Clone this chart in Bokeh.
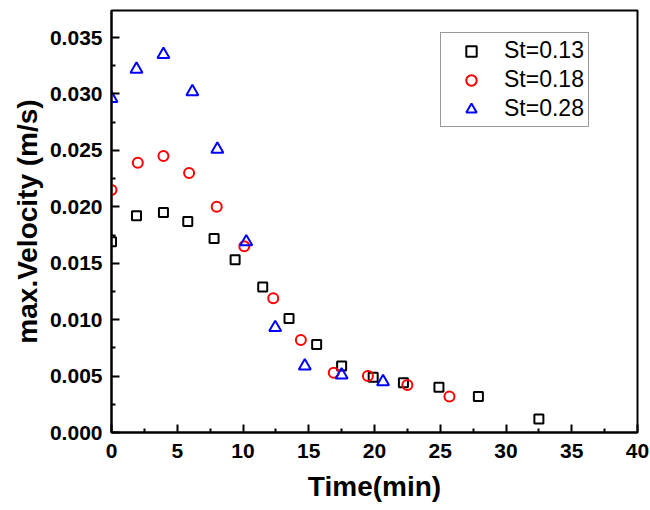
from bokeh.plotting import figure
from bokeh.models import Range1d, FixedTicker, PrintfTickFormatter, Legend, LegendItem
from bokeh.embed import file_html
from bokeh.resources import INLINE

# ---- data ----
t_013 = [0.0, 1.9, 3.95, 5.8, 7.8, 9.4, 11.5, 13.5, 15.6, 17.5, 19.9, 22.2, 24.9, 27.9, 32.5]
v_013 = [0.0169, 0.0192, 0.0195, 0.0187, 0.0172, 0.0153, 0.0129, 0.0101, 0.0078, 0.0059, 0.0049, 0.0044, 0.0040, 0.0032, 0.0012]

t_018 = [0.0, 2.0, 3.95, 5.9, 8.0, 10.1, 12.3, 14.4, 16.9, 19.5, 22.5, 25.7]
v_018 = [0.0215, 0.0239, 0.0245, 0.0230, 0.0200, 0.0165, 0.0119, 0.0082, 0.0053, 0.0050, 0.0042, 0.0032]

t_028 = [0.0, 1.9, 3.95, 6.15, 8.05, 10.25, 12.45, 14.7, 17.5, 20.65]
v_028 = [0.0296, 0.0322, 0.0335, 0.0302, 0.0251, 0.0169, 0.0093, 0.0059, 0.0051, 0.0045]

labels = ["St=0.13", "St=0.18", "St=0.28"]
x_ticks = [0, 5, 10, 15, 20, 25, 30, 35, 40]
y_ticks = [0.000, 0.005, 0.010, 0.015, 0.020, 0.025, 0.030, 0.035]

FONT = "Liberation Sans"

p = figure(width=650, height=510, output_backend="svg", toolbar_location=None,
           x_range=Range1d(0, 40), y_range=Range1d(0, 0.0374),
           min_border_left=111, min_border_right=13, min_border_top=10, min_border_bottom=78)
p.background_fill_color = "white"
p.border_fill_color = "white"
p.xgrid.visible = False
p.ygrid.visible = False
p.outline_line_color = "black"
p.outline_line_width = 2

specs = [("square", 9, "black", t_013, v_013),
         ("circle", 10, "red", t_018, v_018),
         ("triangle", 12, "blue", t_028, v_028)]
items = []
for (mk, sz, col, xs, ys), lab in zip(specs, labels):
    r = p.scatter(xs, ys, marker=mk, size=sz, fill_color=None, line_color=col, line_width=2)
    items.append(LegendItem(label=lab, renderers=[r]))

minor_x = [v + 2.5 for v in x_ticks[:-1]]
minor_y = [v + 0.0025 for v in y_ticks]
for ax, ticks, minor in ((p.xaxis[0], x_ticks, minor_x), (p.yaxis[0], y_ticks, minor_y)):
    ax.ticker = FixedTicker(ticks=ticks, minor_ticks=minor)
    ax.axis_line_width = 2
    ax.axis_line_color = "black"
    ax.major_tick_in = 8
    ax.major_tick_out = 0
    ax.minor_tick_in = 4
    ax.minor_tick_out = 0
    ax.major_tick_line_width = 2
    ax.minor_tick_line_width = 2
    ax.major_label_text_font = FONT
    ax.major_label_text_font_style = "bold"
    ax.major_label_text_font_size = "21px"
    ax.major_label_text_color = "black"
    ax.axis_label_text_font = FONT
    ax.axis_label_text_font_style = "bold"
    ax.axis_label_text_font_size = "28px"
    ax.axis_label_text_color = "black"

p.yaxis[0].formatter = PrintfTickFormatter(format="%.3f")
p.xaxis[0].formatter = PrintfTickFormatter(format="%d")
p.xaxis[0].axis_label = "Time(min)"
p.yaxis[0].axis_label = "max.Velocity (m/s)"
p.xaxis[0].major_label_standoff = 11
p.yaxis[0].major_label_standoff = 9
p.xaxis[0].axis_label_standoff = 10
p.yaxis[0].axis_label_standoff = 4

legend = Legend(items=items, location=(329, 305))
legend.label_text_font = FONT
legend.label_text_font_size = "23px"
legend.label_text_color = "black"
legend.glyph_width = 52
legend.glyph_height = 26
legend.label_height = 26
legend.spacing = 2
legend.padding = 4
legend.margin = 0
legend.label_standoff = 7
legend.border_line_color = "#333333"
legend.border_line_width = 1
legend.background_fill_color = "white"
legend.background_fill_alpha = 1
p.add_layout(legend)

open("out.html", "w").write(file_html(p, INLINE))
